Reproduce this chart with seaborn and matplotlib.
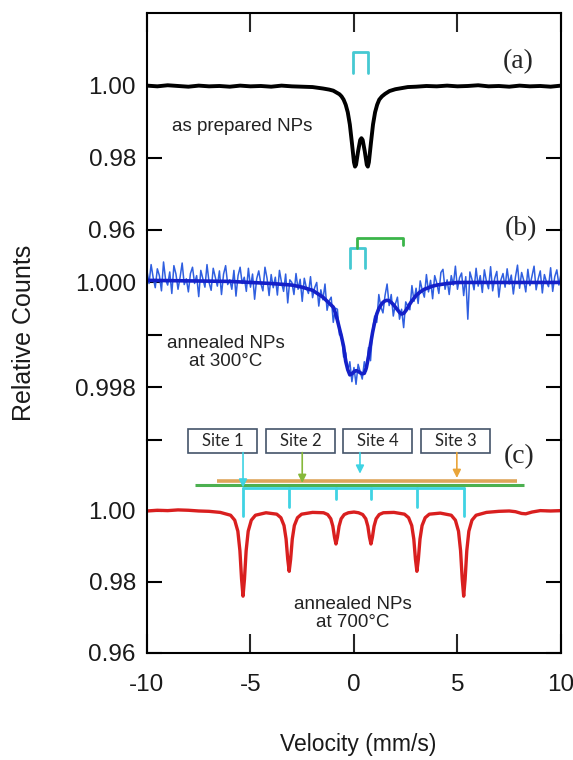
import numpy as np
import seaborn as sns
import matplotlib.pyplot as plt
from matplotlib.patches import Rectangle

# ---- panel (a): as prepared NPs ----
vel_a = [-10, -9.5, -9, -8.5, -8, -7.5, -7, -6.5, -6, -5.5, -5, -4.5, -4, -3.5, -3, -2.5,
         -2, -1.5, -1.2, -1.0, -0.85, -0.7, -0.6, -0.5, -0.4, -0.3, -0.2, -0.1, 0.0, 0.05,
         0.1, 0.2, 0.3, 0.36, 0.42, 0.52, 0.62, 0.67, 0.72, 0.82, 0.92, 1.02, 1.12, 1.22,
         1.35, 1.5, 1.72, 2.0, 2.3, 2.6, 3.0, 3.5, 4, 4.5, 5, 5.5, 6, 6.5, 7, 7.5, 8, 8.5,
         9, 9.5, 10]
counts_a = [1.0001, 0.9999, 1.0002, 1.0000, 0.9998, 1.0001, 0.9999, 1.0000, 0.9998, 1.0001,
            0.9999, 1.0000, 0.9998, 1.0001, 0.9999, 0.9998, 0.9997, 0.9993, 0.9990, 0.9987,
            0.9982, 0.9977, 0.9971, 0.9962, 0.9948, 0.9927, 0.9893, 0.9842, 0.9788, 0.9776,
            0.9781, 0.9819, 0.9850, 0.9855, 0.9850, 0.9819, 0.9781, 0.9776, 0.9788, 0.9842,
            0.9893, 0.9927, 0.9948, 0.9962, 0.9971, 0.9978, 0.9986, 0.9991, 0.9994, 0.9997,
            0.9998, 1.0000, 0.9999, 1.0001, 0.9999, 1.0000, 1.0002, 0.9999, 1.0000, 0.9998,
            1.0001, 0.9999, 1.0000, 0.9998, 1.0001]
doublet_a_vel = [-0.05, -0.05, 0.68, 0.68]
doublet_a_y = [1.0036, 1.0094, 1.0094, 1.0036]

# ---- panel (b): annealed at 300 C ----
vel_b = np.linspace(-10, 10, 201)
counts_b = [
    1.00022, 0.99998, 1.00034, 1.00009, 0.99990, 1.00026, 1.00013, 0.99984, 1.00039, 1.00005,
    0.99995, 1.00020, 0.99979, 1.00032, 1.00016, 0.99987, 1.00010, 1.00037, 0.99996, 1.00007,
    0.99982, 1.00017, 1.00029, 0.99998, 1.00013, 0.99973, 1.00023, 1.00007, 0.99991, 1.00034,
    1.00000, 0.99985, 1.00027, 1.00010, 0.99993, 1.00022, 0.99977, 1.00016, 1.00032, 0.99996,
    1.00005, 0.99987, 1.00023, 0.99974, 1.00013, 1.00029, 0.99998, 1.00010, 0.99983, 1.00027,
    0.99991, 1.00016, 0.99968, 1.00007, 1.00022, 0.99998, 0.99984, 1.00029, 1.00008, 0.99975,
    1.00015, 0.99990, 1.00010, 0.99976, 1.00023, 1.00000, 0.99983, 1.00016, 0.99961, 1.00005,
    1.00000, 0.99977, 1.00017, 0.99987, 1.00006, 0.99964, 1.00008, 0.99990, 0.99979, 1.00011,
    0.99971, 0.99990, 1.00000, 0.99955, 0.99986, 0.99967, 0.99997, 0.99947, 0.99965, 0.99972,
    0.99924, 0.99951, 0.99949, 0.99900, 0.99902, 0.99858, 0.99866, 0.99831, 0.99849, 0.99811,
    0.99838, 0.99806, 0.99844, 0.99830, 0.99816, 0.99849, 0.99831, 0.99876, 0.99851, 0.99910,
    0.99936, 0.99924, 0.99977, 0.99953, 0.99942, 0.99975, 0.99997, 0.99956, 0.99977, 0.99936,
    0.99959, 0.99972, 0.99930, 0.99949, 0.99914, 0.99963, 0.99955, 0.99948, 0.99994, 0.99964,
    0.99989, 0.99960, 1.00003, 0.99985, 0.99972, 1.00015, 0.99982, 1.00004, 0.99969, 1.00013,
    0.99999, 0.99979, 1.00019, 1.00025, 0.99987, 1.00005, 0.99977, 1.00013, 0.99995, 1.00031,
    0.99987, 1.00009, 1.00018, 0.99975, 1.00011, 0.99930, 1.00020, 1.00006, 0.99986, 1.00027,
    0.99993, 1.00013, 0.99981, 1.00024, 1.00002, 0.99988, 1.00030, 0.99984, 1.00008, 1.00021,
    0.99972, 1.00005, 1.00017, 0.99991, 1.00026, 0.99997, 1.00014, 0.99978, 1.00010, 1.00033,
    0.99989, 1.00019, 1.00004, 0.99982, 1.00025, 0.99994, 1.00012, 1.00031, 0.99986, 1.00007,
    1.00022, 0.99980, 1.00015, 1.00001, 0.99992, 1.00028, 0.99983, 1.00011, 1.00024, 0.99995,
    1.00016]
vel_fit_b = [-10, -8, -6, -5, -4, -3, -2.5, -2, -1.5, -1.0, -0.9, -0.8, -0.7, -0.6, -0.5,
             -0.4, -0.3, -0.2, -0.1, 0.0, 0.1, 0.2, 0.3, 0.4, 0.5, 0.6, 0.7, 0.8, 0.9, 1.0,
             1.1, 1.2, 1.3, 1.4, 1.5, 1.6, 1.7, 1.8, 1.9, 2.0, 2.1, 2.2, 2.3, 2.4, 2.5, 2.6,
             2.7, 2.8, 2.9, 3.0, 3.2, 3.4, 3.6, 3.8, 4.0, 4.5, 5, 7, 10]
fit_b = [1.00004, 1.00003, 1.00002, 1.00000, 0.99998, 0.99995, 0.99991, 0.99985, 0.99972,
         0.99953, 0.99942, 0.99928, 0.99912, 0.99896, 0.99878, 0.99850, 0.99834, 0.99824,
         0.99826, 0.99830, 0.99832, 0.99831, 0.99828, 0.99826, 0.99827, 0.99838, 0.99858,
         0.99882, 0.99905, 0.99924, 0.99940, 0.99950, 0.99957, 0.99962, 0.99965, 0.99966,
         0.99965, 0.99962, 0.99958, 0.99953, 0.99948, 0.99943, 0.99940, 0.99941, 0.99946,
         0.99952, 0.99959, 0.99965, 0.99970, 0.99975, 0.99982, 0.99987, 0.99990, 0.99993,
         0.99995, 0.99998, 1.00000, 1.00000, 1.00000]
doublet_b_vel = [-0.2, -0.2, 0.53, 0.53]
doublet_b_y = [1.00028, 1.00065, 1.00065, 1.00028]
quad_b_vel = [0.15, 0.15, 2.37, 2.37]
quad_b_y = [1.00065, 1.00084, 1.00084, 1.00071]

# ---- panel (c): annealed at 700 C ----
vel_c = [-10, -9.5, -9, -8.5, -8, -7.5, -7, -6.46, -5.96, -5.76, -5.61, -5.51, -5.43, -5.36,
         -5.29, -5.21, -5.11, -4.96, -4.76, -4.25, -3.73, -3.53, -3.38, -3.28, -3.20, -3.13,
         -3.06, -2.98, -2.88, -2.73, -2.53, -2.0, -1.47, -1.27, -1.12, -1.02, -0.94, -0.87,
         -0.80, -0.72, -0.62, -0.47, -0.27, 0.0, 0.22, 0.42, 0.57, 0.67, 0.75, 0.82, 0.89,
         0.97, 1.07, 1.22, 1.42, 1.93, 2.44, 2.64, 2.79, 2.89, 2.97, 3.04, 3.11, 3.19, 3.29,
         3.44, 3.64, 4.17, 4.70, 4.90, 5.05, 5.15, 5.23, 5.30, 5.37, 5.45, 5.55, 5.70, 5.90,
         6.4, 7.0, 7.5, 7.8, 8.1, 8.3, 8.6, 9.0, 9.5, 10]
counts_c = [1.0000, 1.0002, 1.0001, 1.0003, 1.0002, 1.0000, 0.9999, 0.9996, 0.9988, 0.9974,
            0.9943, 0.9888, 0.9808, 0.9760, 0.9808, 0.9888, 0.9943, 0.9974, 0.9988, 0.9995,
            0.9991, 0.9981, 0.9959, 0.9921, 0.9864, 0.9830, 0.9864, 0.9921, 0.9959, 0.9981,
            0.9991, 0.9996, 0.9995, 0.9990, 0.9978, 0.9957, 0.9926, 0.9907, 0.9926, 0.9957,
            0.9978, 0.9990, 0.9995, 0.9997, 0.9995, 0.9990, 0.9978, 0.9957, 0.9926, 0.9907,
            0.9926, 0.9957, 0.9978, 0.9990, 0.9995, 0.9996, 0.9991, 0.9981, 0.9959, 0.9921,
            0.9864, 0.9830, 0.9864, 0.9921, 0.9959, 0.9981, 0.9991, 0.9994, 0.9988, 0.9974,
            0.9943, 0.9888, 0.9808, 0.9760, 0.9808, 0.9888, 0.9943, 0.9974, 0.9988, 0.9996,
            0.9999, 1.0000, 0.9998, 0.9993, 0.9992, 0.9997, 1.0001, 1.0000, 1.0001]
sextet_lines = [-5.36, -3.13, -0.87, 0.82, 3.04, 5.30]
sextet_leg_ends = [0.9986, 1.0011, 1.0034, 1.0034, 1.0011, 0.9986]
sextet_bar_y = 1.00652
green_bar = [-7.7, 8.2, 1.00738]
orange_bar = [-6.6, 7.9, 1.0085]
site_names = ['Site 1', 'Site 2', 'Site 4', 'Site 3']
site_box_left = [-8.02, -4.25, -0.53, 3.24]
site_arrow_vel = [-5.36, -2.5, 0.29, 4.97]
site_arrow_tip = [1.0066, 1.0079, 1.0105, 1.0093]
site_colors = ['#3fd3e3', '#86b83a', '#3fd3e3', '#e9a53a']

sns.set_style('ticks')
plt.rcParams['font.family'] = ['Liberation Sans', 'DejaVu Sans']
narrow = ['Liberation Sans Narrow', 'Liberation Sans', 'DejaVu Sans']

fig = plt.figure(figsize=(5.73, 7.6), dpi=100)
gs = fig.add_gridspec(3, 1, height_ratios=[217, 210, 213], hspace=0,
                      left=0.2565, right=0.979, top=0.983, bottom=0.1408)
ax_a = fig.add_subplot(gs[0])
ax_b = fig.add_subplot(gs[1], sharex=ax_a)
ax_c = fig.add_subplot(gs[2], sharex=ax_a)

sns.lineplot(x=vel_a, y=counts_a, ax=ax_a, color='black', linewidth=2.8)
sns.lineplot(x=vel_b, y=counts_b, ax=ax_b, color='#2f5fe0', linewidth=1.1)
sns.lineplot(x=vel_fit_b, y=fit_b, ax=ax_b, color='#1420c8', linewidth=2.6)
sns.lineplot(x=vel_c, y=counts_c, ax=ax_c, color='#d91f1f', linewidth=2.4)

ax_a.set_ylim(0.96, 1.0203)
ax_b.set_ylim(0.997, 1.001)
ax_c.set_ylim(0.96, 1.02)
ax_a.set_xlim(-10, 10)

for ax in (ax_a, ax_b, ax_c):
    for sp in ax.spines.values():
        sp.set_linewidth(1.5)
        sp.set_color('black')
    ax.set_xlabel('')
    ax.set_ylabel('')
    ax.tick_params(axis='y', direction='in', length=11, width=1.5, left=True, right=True,
                   pad=8, colors='black')
    ax.patch.set_alpha(0)

ax_a.spines['bottom'].set_visible(False)
ax_b.spines['top'].set_visible(False)
ax_b.spines['bottom'].set_visible(False)
ax_c.spines['top'].set_visible(False)

ax_a.set_yticks([0.96, 0.98, 1.00])
ax_a.set_yticklabels(['0.96', '0.98', '1.00'])
ax_b.set_yticks([0.997, 0.998, 0.999, 1.000])
ax_b.set_yticklabels(['', '0.998', '', '1.000'])
ax_c.set_yticks([0.96, 0.98, 1.00])
ax_c.set_yticklabels(['0.96', '0.98', '1.00'])

ax_a.set_xticks([-5, 0, 5])
ax_a.tick_params(axis='x', direction='in', top=True, bottom=False, labelbottom=False,
                 length=14, width=1.5)
ax_b.tick_params(axis='x', bottom=False, top=False, labelbottom=False)
ax_c.set_xticks([-10, -5, 0, 5, 10])
ax_c.set_xticklabels(['-10', '-5', '0', '5', '10'])
ax_c.tick_params(axis='x', direction='in', top=False, bottom=True, length=14, width=1.5,
                 pad=15)

for ax in (ax_a, ax_b, ax_c):
    for lab in ax.get_yticklabels() + ax.get_xticklabels():
        lab.set_fontfamily(narrow)
        lab.set_fontsize(17.5)
        lab.set_color('#1a1a1a')

# component markers
ax_a.plot(doublet_a_vel, doublet_a_y, color='#45c9d2', lw=2)
ax_b.plot(doublet_b_vel, doublet_b_y, color='#45c9d2', lw=2, clip_on=False)
ax_b.plot(quad_b_vel, quad_b_y, color='#3bb54a', lw=2, clip_on=False)

ax_c.plot(green_bar[:2], [green_bar[2]] * 2, color='#4cb050', lw=2.2, solid_capstyle='butt')
ax_c.plot(orange_bar[:2], [orange_bar[2]] * 2, color='#dea55a', lw=2.6,
          solid_capstyle='butt')
ax_c.plot([sextet_lines[0], sextet_lines[-1]], [sextet_bar_y] * 2, color='#3fd3e3', lw=2)
for v, yend in zip(sextet_lines, sextet_leg_ends):
    ax_c.plot([v, v], [sextet_bar_y, yend], color='#3fd3e3', lw=2)

box_w = 3.35
box_bottom, box_top = 1.01645, 1.0230
for name, left, av, tip, col in zip(site_names, site_box_left, site_arrow_vel,
                                     site_arrow_tip, site_colors):
    ax_c.add_patch(Rectangle((left, box_bottom), box_w, box_top - box_bottom,
                             facecolor='white', edgecolor='#44546a', lw=1.2,
                             clip_on=False, zorder=5))
    ax_c.text(left + box_w / 2, (box_bottom + box_top) / 2, name, ha='center',
              va='center', fontsize=12, family=['Lato', 'DejaVu Sans'], zorder=6)
    ax_c.annotate('', xy=(av, tip), xytext=(av, box_bottom),
                  arrowprops=dict(arrowstyle='-|>', color=col, lw=1.2, mutation_scale=12,
                                  shrinkA=0, shrinkB=0),
                  annotation_clip=False, zorder=6)

# text labels
serif = ['Liberation Serif', 'DejaVu Serif']
ax_a.text(7.95, 1.0069, '(a)', ha='center', va='center', fontsize=20, family=serif)
ax_b.text(8.05, 1.00103, '(b)', ha='center', va='center', fontsize=20, family=serif)
ax_c.text(8.0, 1.0153, '(c)', ha='center', va='center', fontsize=20, family=serif)

ax_a.text(-8.79, 0.98861, 'as prepared NPs', ha='left', va='center', fontsize=13.5,
          color='#222222')
ax_b.text(-6.18, 0.99866, 'annealed NPs\nat 300°C', ha='center', va='center',
          fontsize=13.5, color='#222222', linespacing=1.1)
ax_c.text(-0.05, 0.97121, 'annealed NPs\nat 700°C', ha='center', va='center',
          fontsize=13.5, color='#222222', linespacing=1.1)

fig.text(24 / 573, 1 - 333 / 760, 'Relative Counts', rotation=90, ha='center',
         va='center', fontsize=18, color='#1a1a1a')
fig.text(358 / 573, 1 - 745 / 760, 'Velocity (mm/s)', ha='center', va='center',
         fontsize=16.5, color='#1a1a1a')

fig.savefig('out.png', dpi=100)
